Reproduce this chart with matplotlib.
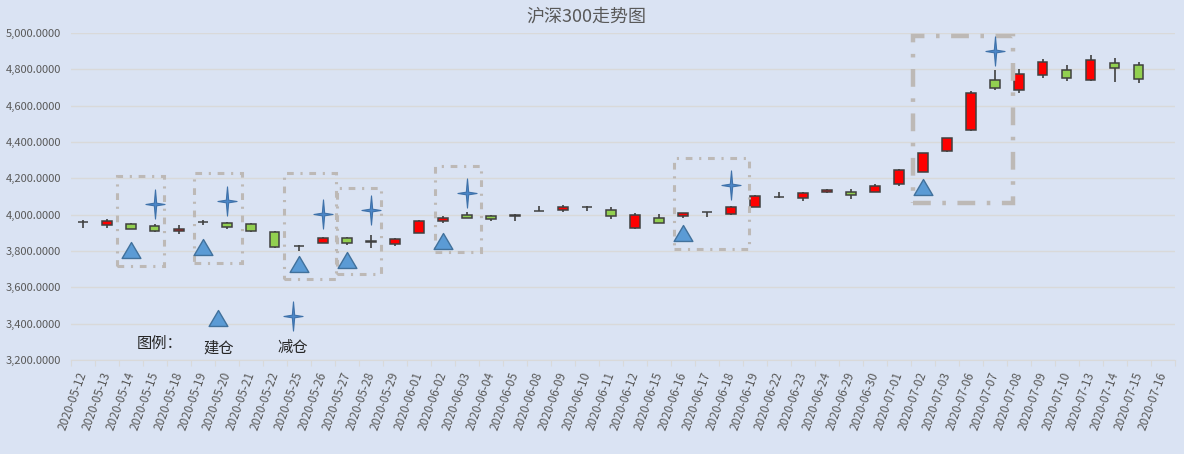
import numpy as np
import matplotlib.pyplot as plt
from matplotlib.path import Path
from matplotlib.patches import Rectangle

plt.rcParams['font.family'] = ['Noto Sans CJK SC', 'DejaVu Sans']

# CSI 300 daily candles
dates = ['2020-05-12', '2020-05-13', '2020-05-14', '2020-05-15', '2020-05-18',
         '2020-05-19', '2020-05-20', '2020-05-21', '2020-05-22', '2020-05-25',
         '2020-05-26', '2020-05-27', '2020-05-28', '2020-05-29', '2020-06-01',
         '2020-06-02', '2020-06-03', '2020-06-04', '2020-06-05', '2020-06-08',
         '2020-06-09', '2020-06-10', '2020-06-11', '2020-06-12', '2020-06-15',
         '2020-06-16', '2020-06-17', '2020-06-18', '2020-06-19', '2020-06-22',
         '2020-06-23', '2020-06-24', '2020-06-29', '2020-06-30', '2020-07-01',
         '2020-07-02', '2020-07-03', '2020-07-06', '2020-07-07', '2020-07-08',
         '2020-07-09', '2020-07-10', '2020-07-13', '2020-07-14', '2020-07-15',
         '2020-07-16']
opens = [3958, 3945, 3951, 3940, 3912, 3958, 3956, 3951, 3907, 3825,
         3844, 3874, 3847, 3837, 3901, 3965, 4000, 3994, 3990, 4019,
         4025, 4041, 4027, 3927, 3984, 3994, 4013, 4005, 4044, 4096,
         4092, 4125, 4127, 4125, 4169, 4237, 4353, 4464, 4740, 4688,
         4767, 4795, 4740, 4833, 4822, np.nan]
highs = [3969, 3974, 3953, 3947, 3945, 3969, 3958, 3952, 3908, 3835,
         3876, 3876, 3886, 3874, 3973, 3991, 4014, 3996, 4001, 4049,
         4051, 4045, 4040, 4011, 4005, 4011, 4016, 4046, 4110, 4124,
         4123, 4142, 4140, 4171, 4250, 4340, 4422, 4681, 4797, 4800,
         4856, 4822, 4879, 4861, 4839, np.nan]
lows = [3929, 3929, 3919, 3905, 3896, 3945, 3923, 3905, 3817, 3799,
        3842, 3835, 3819, 3828, 3899, 3954, 3981, 3967, 3967, 4018,
        4014, 4020, 3976, 3921, 3954, 3984, 3989, 4000, 4042, 4094,
        4077, 4121, 4088, 4124, 4158, 4235, 4346, 4460, 4688, 4668,
        4754, 4734, 4738, 4729, 4723, np.nan]
closes = [3960, 3967, 3921, 3910, 3923, 3960, 3934, 3910, 3822, 3827,
          3874, 3844, 3857, 3867, 3967, 3983, 3983, 3976, 3999, 4021,
          4044, 4043, 3994, 4000, 3956, 4011, 4015, 4044, 4100, 4098,
          4121, 4138, 4110, 4160, 4248, 4337, 4420, 4668, 4696, 4773,
          4839, 4751, 4850, 4806, 4745, np.nan]

# trade signals
buy_dates = ['2020-05-14', '2020-05-19', '2020-05-25', '2020-05-27', '2020-06-02',
             '2020-06-16', '2020-07-02']
buy_levels = [3805, 3820, 3730, 3750, 3855, 3898, 4150]
sell_dates = ['2020-05-15', '2020-05-20', '2020-05-26', '2020-05-28', '2020-06-03',
              '2020-06-18', '2020-07-07']
sell_levels = [4057, 4075, 4005, 4024, 4121, 4161, 4900]

# highlighted boxes: (left, right, bottom, top) in category units / index points
boxes = [(1.42, 3.40, 3716, 4213), (4.64, 6.64, 3734, 4228),
         (8.39, 10.55, 3645, 4227), (10.58, 12.43, 3672, 4148),
         (14.67, 16.60, 3795, 4269), (24.64, 27.75, 3809, 4313)]
big_box = (34.6, 38.75, 4066, 4986)

bg = '#DAE3F3'
grid_c = '#D9D9D9'
text_c = '#595959'

fig = plt.figure(figsize=(11.84, 4.54), dpi=100)
fig.patch.set_facecolor(bg)
ax = fig.add_axes([70.7 / 1184, 1 - 360 / 454, 1104 / 1184, 327 / 454])
ax.set_facecolor(bg)

o = np.array(opens, float)
h = np.array(highs, float)
l = np.array(lows, float)
c = np.array(closes, float)
x = np.arange(len(dates))
ok = ~np.isnan(o)

ax.vlines(x[ok], l[ok], h[ok], color='#404040', lw=1.2, zorder=2)
up = c >= o
colors = np.where(up, '#FF0000', '#92D050')
ax.bar(x[ok], np.abs(c - o)[ok], bottom=np.minimum(o, c)[ok], width=0.4,
       color=colors[ok], edgecolor='#404040', linewidth=1.1, zorder=3)

idx = {d: i for i, d in enumerate(dates)}

tri = Path([(0, 0.85), (1, -0.85), (-1, -0.85), (0, 0.85)],
           [Path.MOVETO, Path.LINETO, Path.LINETO, Path.CLOSEPOLY])
sv = [(0, 1), (0.08, 0.09), (0.655, 0), (0.08, -0.09), (0, -1),
      (-0.08, -0.09), (-0.655, 0), (-0.08, 0.09), (0, 1)]
star = Path(sv, [Path.MOVETO] + [Path.LINETO] * 7 + [Path.CLOSEPOLY])

bx = [idx[d] for d in buy_dates]
sx = [idx[d] for d in sell_dates]
ax.plot(bx, buy_levels, ls='none', marker=tri, ms=13.5, mfc='#5B9BD5',
        mec='#41719C', mew=1, zorder=5)
ax.plot(sx, sell_levels, ls='none', marker=star, ms=21, mfc='#4A86C8',
        mec='#3F72AA', mew=0.8, zorder=5)

for x0, x1, y0, y1 in boxes:
    ax.add_patch(Rectangle((x0, y0), x1 - x0, y1 - y0, fill=False,
                           edgecolor='#BDB9B6', lw=2.2,
                           ls=(0, (2.2, 2.2, 0.7, 2.2)), zorder=4))
x0, x1, y0, y1 = big_box
ax.add_patch(Rectangle((x0, y0), x1 - x0, y1 - y0, fill=False,
                       edgecolor='#BDB9B6', lw=3.2,
                       ls=(0, (4, 2.6, 0.8, 2.6)), zorder=4))

# hand-made legend
ax.text(3.2, 3289, '图例：', ha='center', va='center', fontsize=11, color='#262626')
ax.plot([5.65], [3433], ls='none', marker=tri, ms=13.5, mfc='#5B9BD5',
        mec='#41719C', mew=1)
ax.text(5.65, 3268, '建仓', ha='center', va='center', fontsize=11, color='#262626')
ax.plot([8.77], [3443], ls='none', marker=star, ms=21, mfc='#4A86C8',
        mec='#3F72AA', mew=0.8)
ax.text(8.77, 3268, '减仓', ha='center', va='center', fontsize=11, color='#262626')

ax.set_xlim(-0.5, len(dates) - 0.5)
ax.set_ylim(3200, 5000)
ax.set_yticks(np.arange(3200, 5001, 200))
ax.set_yticklabels([f'{v:,.4f}' for v in np.arange(3200, 5001, 200)])
ax.tick_params(axis='y', length=0, pad=7, labelsize=8, labelcolor=text_c)
ax.grid(axis='y', color=grid_c, lw=1, zorder=0)

ax.set_xticks(np.arange(-0.5, len(dates), 1))
ax.set_xticklabels([])
ax.tick_params(axis='x', which='major', length=4, color=grid_c, direction='out')
ax.set_xticks(x, minor=True)
ax.set_xticklabels(dates, minor=True, rotation=70, ha='right', va='center',
                   rotation_mode='anchor', fontsize=8.5, color=text_c)
ax.tick_params(axis='x', which='minor', length=0, pad=9)

for s in ['top', 'right', 'left']:
    ax.spines[s].set_visible(False)
ax.spines['bottom'].set_color(grid_c)

fig.text(0.495, 1 - 17 / 454, '沪深300走势图', ha='center', va='center',
         fontsize=13, color=text_c)

fig.savefig('out.png', dpi=100, facecolor=bg)
